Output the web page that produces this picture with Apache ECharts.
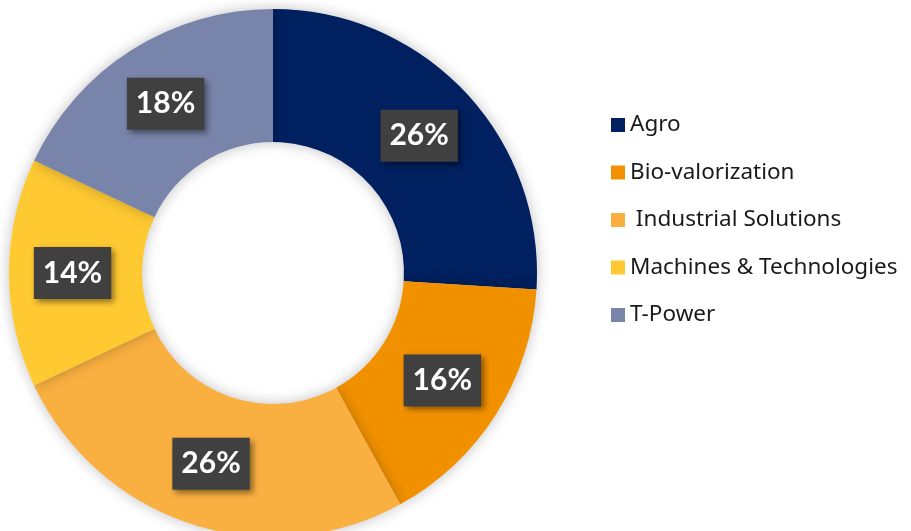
<!DOCTYPE html>
<html>
<head>
<meta charset="utf-8">
<script src="https://cdn.jsdelivr.net/npm/echarts@6/dist/echarts.min.js"></script>
<style>
  html, body { margin: 0; padding: 0; background: #fff; }
  #main { width: 911px; height: 531px; }
</style>
</head>
<body>
<div id="main"></div>
<script>
// segment names, shares (%) and colours
var names = ['Agro', 'Bio-valorization', ' Industrial Solutions', 'Machines & Technologies', 'T-Power'];
var shares = [26, 16, 26, 14, 18];
var colors = ['#002060', '#F29100', '#F9B040', '#FFC932', '#7884AA'];

var myChart = echarts.init(document.getElementById('main'));

var pieData = names.map(function (n, i) {
    return { name: n, value: shares[i], itemStyle: { color: colors[i] } };
});

var option = {
    animation: false,
    legend: {
        orient: 'vertical',
        left: 606,
        top: 108,
        icon: 'rect',
        itemWidth: 14,
        itemHeight: 14,
        itemGap: 23.5,
        textStyle: {
            fontFamily: 'Noto Sans',
            fontSize: 22.5,
            lineHeight: 24,
            color: '#1a1a1a',
            padding: [0, 0, 0, 0]
        },
        data: names
    },
    series: [{
        type: 'pie',
        center: [273, 273],
        radius: [131, 264],
        startAngle: 90,
        clockwise: true,
        avoidLabelOverlap: false,
        itemStyle: {
            shadowBlur: 14,
            shadowColor: 'rgba(0,0,0,0.25)'
        },
        label: {
            show: true,
            position: 'inside',
            formatter: '{c}%',
            fontFamily: 'Lato',
            fontWeight: 'bold',
            fontSize: 30,
            lineHeight: 30,
            color: '#fff',
            backgroundColor: '#404040',
            padding: [11, 9],
            shadowBlur: 6,
            shadowOffsetX: 3,
            shadowOffsetY: 3,
            shadowColor: 'rgba(0,0,0,0.45)'
        },
        labelLine: { show: false },
        emphasis: { disabled: true },
        data: pieData
    }]
};

myChart.setOption(option);
</script>
</body>
</html>
